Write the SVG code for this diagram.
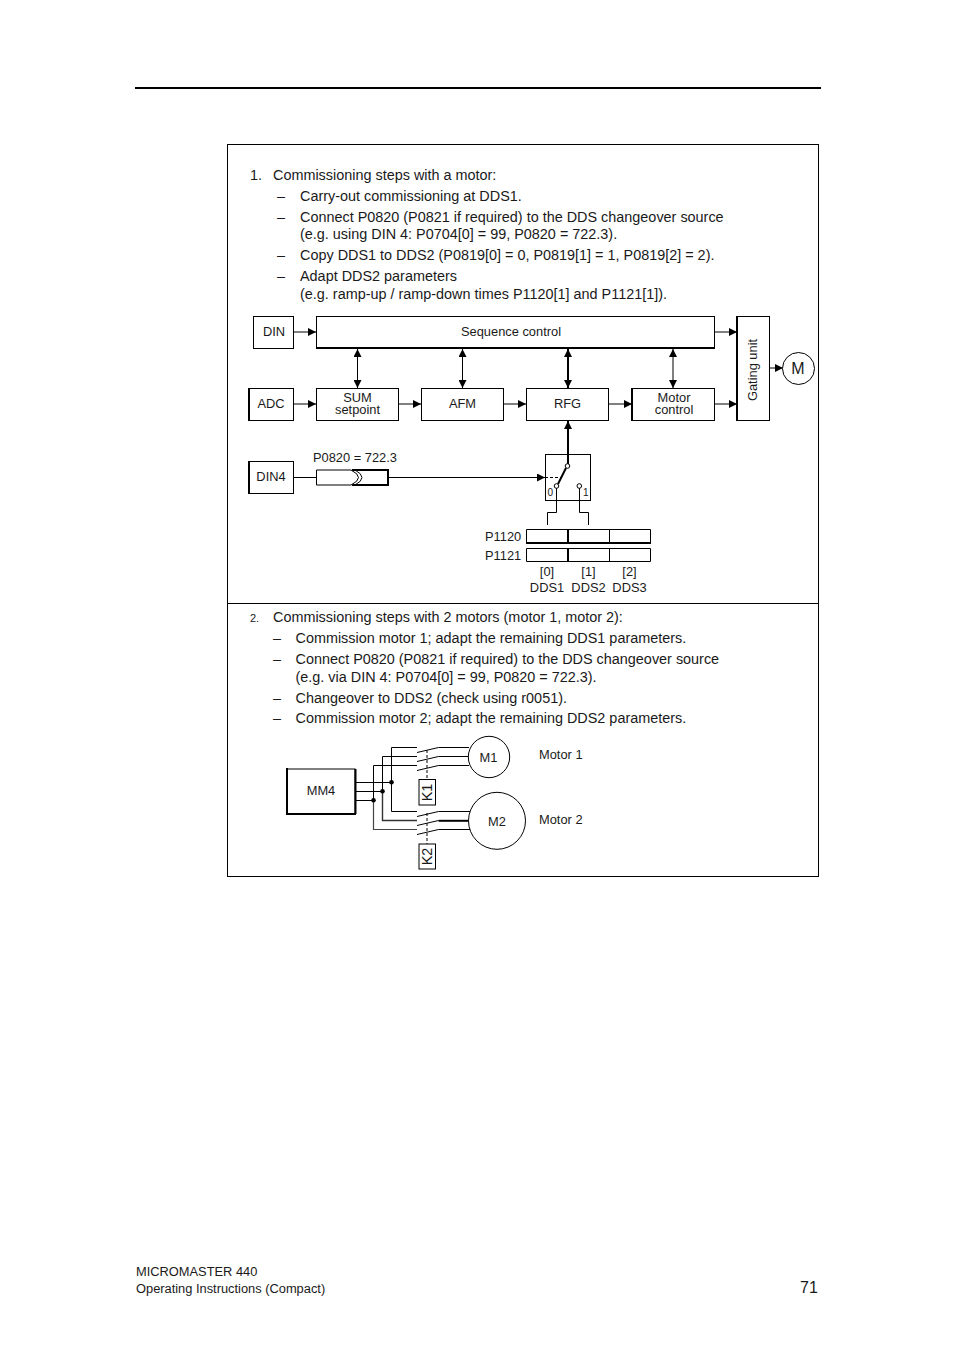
<svg xmlns="http://www.w3.org/2000/svg" width="954" height="1351" viewBox="0 0 954 1351">
<style>
text{font-family:"Liberation Sans",Arial,sans-serif;fill:#1a1a1a}
.t{font-size:14.42px}
.s{font-size:12.85px}
.m{text-anchor:middle}
.b{fill:#fff;stroke:#000;stroke-width:1}
.l{fill:none;stroke:#000;stroke-width:1}
.h{fill:none;stroke:#000;stroke-width:2}
</style>
<defs>
<marker id="a" markerUnits="userSpaceOnUse" markerWidth="9" markerHeight="8" refX="8" refY="4" orient="auto-start-reverse"><path d="M0 0L8 4L0 8Z" fill="#000"/></marker>
</defs>
<rect width="954" height="1351" fill="#fff"/>
<rect x="135" y="87" width="686" height="2" fill="#000"/>
<rect class="l" x="227.500" y="144.500" width="591" height="732"/>
<line class="l" x1="228" y1="603.500" x2="818" y2="603.500"/>
<g id="text1">
<text class="t" x="250" y="180">1.</text><text class="t" x="273" y="180">Commissioning steps with a motor:</text>
<text class="t" x="277" y="201">–</text><text class="t" x="300" y="201">Carry-out commissioning at DDS1.</text>
<text class="t" x="277" y="222">–</text><text class="t" x="300" y="222">Connect P0820 (P0821 if required) to the DDS changeover source</text>
<text class="t" x="300" y="239">(e.g. using DIN 4: P0704[0] = 99, P0820 = 722.3).</text>
<text class="t" x="277" y="260">–</text><text class="t" x="300" y="260">Copy DDS1 to DDS2 (P0819[0] = 0, P0819[1] = 1, P0819[2] = 2).</text>
<text class="t" x="277" y="281">–</text><text class="t" x="300" y="281">Adapt DDS2 parameters</text>
<text class="t" x="300" y="299">(e.g. ramp-up / ramp-down times P1120[1] and P1121[1]).</text>
</g>
<g id="connectors">
<path class="l" d="M294 332H316" marker-end="url(#a)"/>
<path class="l" d="M294 404H316" marker-end="url(#a)"/>
<path class="l" d="M399 404H421" marker-end="url(#a)"/>
<path class="l" d="M504 404H526" marker-end="url(#a)"/>
<path class="l" d="M609 404H632" marker-end="url(#a)"/>
<path class="l" d="M715 332H737" marker-end="url(#a)"/>
<path class="l" d="M715 404H737" marker-end="url(#a)"/>
<path class="l" d="M770 368H783" marker-end="url(#a)"/>
<path class="l" d="M357.500 349V388" marker-start="url(#a)" marker-end="url(#a)"/>
<path class="l" d="M462.500 349V388" marker-start="url(#a)" marker-end="url(#a)"/>
<path class="h" d="M568 349V388" marker-start="url(#a)" marker-end="url(#a)"/>
<path class="l" d="M673 349V388" marker-start="url(#a)" marker-end="url(#a)"/>
<path class="h" d="M568 464V421" marker-end="url(#a)"/>
<path class="l" d="M294 477.500H316"/>
<path class="l" d="M389 477.500H545" marker-end="url(#a)"/>
<path d="M545 477.500H561" fill="none" stroke="#000" stroke-dasharray="3 2"/>
<path class="h" d="M566 468L558 484"/>
<path class="l" d="M556.500 488V512.500H547.500V525M579.500 488V512.500H588.500V525"/>
</g>
<g id="din"><rect class="b" x="253.500" y="316.500" width="40" height="32"/><path class="l" d="M293 348.500H253.500V316.500"/><text class="s m" x="274" y="336">DIN</text></g>
<g id="seq"><rect class="b" x="316.500" y="316.500" width="398" height="31"/><path class="h" d="M316 348H715"/><text class="s m" x="511" y="336">Sequence control</text></g>
<g id="gating"><rect class="b" x="737" y="316.500" width="32.500" height="104"/><path class="h" d="M737 316V421"/><text class="s m" transform="translate(757 370) rotate(-90)">Gating unit</text></g>
<g id="motor"><circle class="b" cx="798.500" cy="368.500" r="16"/><text class="m" x="798" y="374" font-size="16">M</text></g>
<g id="adc"><rect class="b" x="248.500" y="388.500" width="45" height="32"/><path class="h" d="M249 388V421"/><text class="s m" x="271" y="408">ADC</text></g>
<g id="sum"><rect class="b" x="316.500" y="388.500" width="82" height="32"/><text class="s m" x="357.500" y="402">SUM</text><text class="s m" x="357.500" y="414">setpoint</text></g>
<g id="afm"><rect class="b" x="421.500" y="388.500" width="82" height="32"/><text class="s m" x="462.500" y="408">AFM</text></g>
<g id="rfg"><rect class="b" x="526.500" y="388.500" width="82" height="32"/><text class="s m" x="567.500" y="408">RFG</text></g>
<g id="mc"><rect class="b" x="631.500" y="388.500" width="83" height="32"/><path class="h" d="M632 388V421"/><text class="s m" x="674" y="402">Motor</text><text class="s m" x="674" y="414">control</text></g>
<g id="din4"><rect class="b" x="248.500" y="461.500" width="45" height="32"/><path class="h" d="M249 461V494"/><text class="s m" x="271" y="481">DIN4</text></g>
<text class="s" x="313" y="462">P0820 = 722.3</text>
<g id="gate"><path class="h" d="M352 470H388V485H352"/><path class="l" d="M355 470Q369 477.500 355 485"/><path d="M316.500 470H351Q366 477.500 351 485H316.500Z" fill="#fff" stroke="#000"/></g>
<g id="switch"><rect class="l" x="545.500" y="454.500" width="45" height="46"/>
<circle class="b" cx="567.500" cy="466" r="2.300"/><circle class="b" cx="556.500" cy="486" r="2.300"/><circle class="b" cx="579.300" cy="486" r="2.300"/>
<text x="547.500" y="496" font-size="10">0</text><text x="583" y="496" font-size="10">1</text></g>
<g id="table"><path class="l" d="M526.500 529.500H650.500V542.500H526.500ZM526.500 548.500H650.500V561.500H526.500ZM609.500 529.500V542.500M609.500 548.500V561.500"/>
<path class="h" d="M568 529V543M568 548V562M526 543H651"/>
<text class="s" x="485" y="541">P1120</text><text class="s" x="485" y="560">P1121</text>
<text class="s m" x="547" y="576">[0]</text><text class="s m" x="588.500" y="576">[1]</text><text class="s m" x="629.500" y="576">[2]</text>
<text class="s m" x="547" y="592">DDS1</text><text class="s m" x="588.500" y="592">DDS2</text><text class="s m" x="629.500" y="592">DDS3</text></g>
<g id="text2">
<text x="250" y="622" font-size="11px">2.</text><text class="t" x="273" y="622">Commissioning steps with 2 motors (motor 1, motor 2):</text>
<text class="t" x="273" y="643">–</text><text class="t" x="295.500" y="643">Commission motor 1; adapt the remaining DDS1 parameters.</text>
<text class="t" x="273" y="664">–</text><text class="t" x="295.500" y="664">Connect P0820 (P0821 if required) to the DDS changeover source</text>
<text class="t" x="295.500" y="682">(e.g. via DIN 4: P0704[0] = 99, P0820 = 722.3).</text>
<text class="t" x="273" y="703">–</text><text class="t" x="295.500" y="703">Changeover to DDS2 (check using r0051).</text>
<text class="t" x="273" y="723">–</text><text class="t" x="295.500" y="723">Commission motor 2; adapt the remaining DDS2 parameters.</text>
</g>
<g id="wiring">
<path class="l" d="M356 782.500H391M356 791.500H382M356 800.500H373"/>
<path class="l" d="M391.500 782.500V747.500H417M382.500 791.500V756.500H417M373.500 800.500V765.500H417"/>
<path class="l" d="M391.500 782.500V811.500H417"/>
<path d="M382.500 791.500V820.500H417" fill="none" stroke="#333" stroke-width="1.400"/>
<path d="M373.500 800.500V829.500H417" fill="none" stroke="#444" stroke-width="1.200"/>
<path class="l" d="M417 752.500L438.500 747.500H469M417 761.500L438.500 756.500H469M417 770.500L438.500 765.500H469"/>
<path class="l" d="M417 816.500L438.500 811.500H470M417 825.500L438.500 820.500M417 834.500L438.500 829.500H470"/>
<path d="M438.500 820.800H470" stroke="#000" stroke-width="2"/>
<path d="M427 750V780M427 813V845" fill="none" stroke="#000" stroke-dasharray="3 2"/>
<circle cx="391.500" cy="782.300" r="2.300" fill="#000"/><circle cx="382.500" cy="791.300" r="2.300" fill="#000"/><circle cx="373.500" cy="800.300" r="2.300" fill="#000"/>
</g>
<g id="mm4"><rect class="b" x="287" y="769" width="68" height="45"/><path class="h" d="M287 814H356M355.500 769V814M287 768V815"/><text class="s m" x="321" y="795">MM4</text></g>
<g id="m1"><circle class="b" cx="489" cy="757" r="20.700"/><text class="s m" x="488.500" y="762">M1</text></g>
<g id="m2"><circle class="b" cx="497" cy="820.800" r="28.500"/><text class="s m" x="497" y="826">M2</text></g>
<g id="k1"><rect class="b" x="419" y="779.500" width="16.500" height="25.500"/><text class="t m" transform="translate(432 792.500) rotate(-90)">K1</text></g>
<g id="k2"><rect class="b" x="419" y="844" width="16.500" height="25"/><text class="t m" transform="translate(432 856.500) rotate(-90)">K2</text></g>
<text class="s" x="539" y="759">Motor 1</text><text class="s" x="539" y="824">Motor 2</text>
<g id="footer"><text class="s" x="136" y="1276">MICROMASTER 440</text><text class="s" x="136" y="1293">Operating Instructions (Compact)</text><text x="800" y="1293" font-size="16">71</text></g>
</svg>
